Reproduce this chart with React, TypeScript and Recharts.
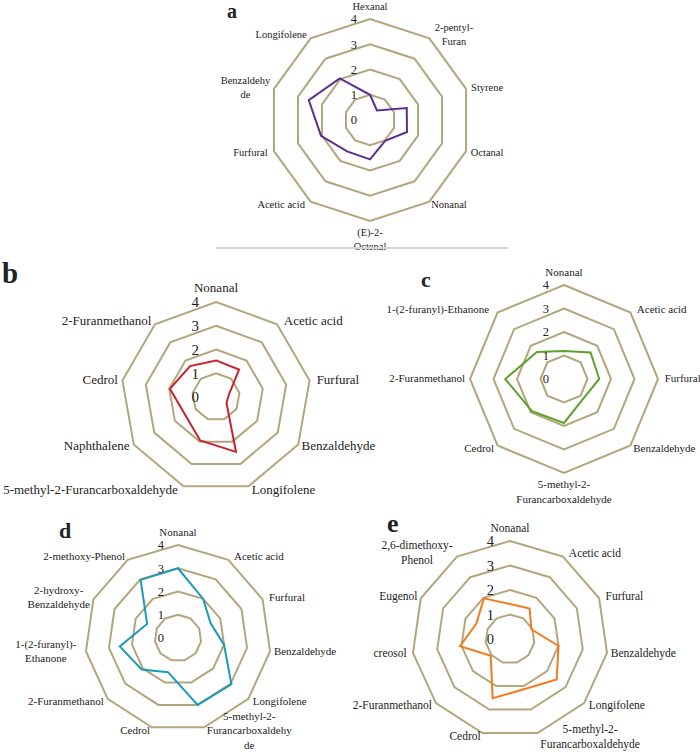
import React from 'react';
import { RadarChart, Radar, PolarGrid, PolarAngleAxis, PolarRadiusAxis } from 'recharts';

const FONT = '"Liberation Serif", "Times New Roman", serif';
const GRID = '#b4a67c';

// panel a
const catsA = ['Hexanal', '2-pentyl-\nFuran', 'Styrene', 'Octanal', 'Nonanal', '(E)-2-\nOctenal', 'Acetic acid', 'Furfural', 'Benzaldehy\nde', 'Longifolene'];
const valsA = [1.0, 0.47, 1.53, 1.54, 1.02, 1.56, 1.54, 2.04, 2.55, 2.04];

// panel b
const catsB = ['Nonanal', 'Acetic acid', 'Furfural', 'Benzaldehyde', 'Longifolene', '5-methyl-2-Furancarboxaldehyde', 'Naphthalene', 'Cedrol', '2-Furanmethanol'];
const valsB = [1.54, 1.51, 0.55, 0.51, 2.46, 1.95, 1.5, 1.97, 1.7];

// panel c
const catsC = ['Nonanal', 'Acetic acid', 'Furfural', 'Benzaldehyde', '5-methyl-2-\nFurancarboxaldehyde', 'Cedrol', '2-Furanmethanol', '1-(2-furanyl)-Ethanone'];
const valsC = [1.19, 1.6, 1.5, 1.17, 1.87, 1.93, 2.5, 1.63];

// panel d
const catsD = ['Nonanal', 'Acetic acid', 'Furfural', 'Benzaldehyde', 'Longifolene', '5-methyl-2-\nFurancarboxaldehy\nde', 'Cedrol', '2-Furanmethanol', '1-(2-furanyl)-\nEthanone', '2-hydroxy-\nBenzaldehyde', '2-methoxy-Phenol'];
const valsD = [3.0, 2.0, 1.54, 2.0, 3.04, 3.0, 1.53, 2.07, 2.53, 1.46, 2.97];

// panel e
const catsE = ['Nonanal', 'Acetic acid', 'Furfural', 'Benzaldehyde', 'Longifolene', '5-methyl-2-\nFurancarboxaldehyde', 'Cedrol', '2-Furanmethanol', 'creosol', 'Eugenol', '2,6-dimethoxy-\nPhenol'];
const valsE = [1.43, 1.48, 0.96, 2.0, 2.52, 2.13, 2.52, 1.04, 2.06, 1.51, 1.97];

const radiusTicks = [0, 1, 2, 3, 4];

function RadarPanel({ left, top, width, height, cx, cy, r, categories, values, color, labelSize, numSize, numDx }: any) {
  const data = categories.map((name: string, i: number) => ({ name, value: values[i] }));
  const n = categories.length;

  // category labels, placed just outside the outer ring like Excel does
  const renderAngleTick = (props: any) => {
    const idx = props.index ?? 0;
    const deg = 90 - (idx * 360) / n;
    const rad = (-deg * Math.PI) / 180;
    const cos = Math.cos(rad);
    const sin = Math.sin(rad);
    const lines = String(props.payload.value).split('\n');
    const lh = labelSize * 1.3;
    const h = lines.length * lh;
    const w = Math.max(...lines.map((l) => l.length * labelSize * 0.47));
    const vertical = Math.abs(cos) < 0.08;
    const gap = vertical ? 5 : 4;
    const x = cx + (r + gap) * cos;
    const y = cy + (r + gap) * sin;
    let bx = x;
    if (!vertical) bx = cos > 0 ? x + w / 2 : x - w / 2;
    let topY = y - h / 2;
    if (vertical) topY = sin < 0 ? y - h : y;
    return (
      <text fontSize={labelSize} fontFamily={FONT} fill="#222" textAnchor="middle">
        {lines.map((l, i) => (
          <tspan key={i} x={bx} y={topY + lh * i + labelSize * 0.95}>{l}</tspan>
        ))}
      </text>
    );
  };

  const renderRadiusTick = (props: any) => {
    const { x, y, payload } = props;
    return (
      <text x={x + numDx} y={y + numSize * 0.35} textAnchor="end" fontSize={numSize} fontFamily={FONT} fill="#222">
        {payload.value}
      </text>
    );
  };

  return (
    <div style={{ position: 'absolute', left, top }}>
      <RadarChart width={width} height={height} data={data} cx={cx} cy={cy} outerRadius={r} margin={{ top: 0, right: 0, bottom: 0, left: 0 }}>
        <PolarGrid gridType="polygon" radialLines={false} stroke={GRID} strokeWidth={2} />
        <PolarAngleAxis dataKey="name" tick={renderAngleTick} tickLine={false} axisLine={false} />
        <PolarRadiusAxis angle={90} domain={[0, 4]} ticks={radiusTicks as any} tickCount={5} axisLine={false} tickLine={false} tick={renderRadiusTick} />
        <Radar dataKey="value" stroke={color} strokeWidth={2} fill="none" fillOpacity={0} dot={false} isAnimationActive={false} />
      </RadarChart>
    </div>
  );
}

export default function App() {
  return (
    <div style={{ position: 'absolute', left: 0, top: 0, width: 700, height: 752, background: '#fff' }}>
      <RadarPanel left={150} top={0} width={400} height={252} cx={220} cy={120} r={101}
        categories={catsA} values={valsA} color="#5b2f8c" labelSize={10.5} numSize={12.5} numDx={-13} />
      <RadarPanel left={0} top={255} width={385} height={250} cx={216} cy={142} r={95}
        categories={catsB} values={valsB} color="#c8232c" labelSize={13} numSize={15} numDx={-17} />
      <RadarPanel left={380} top={255} width={320} height={250} cx={184} cy={124} r={94}
        categories={catsC} values={valsC} color="#5ea12b" labelSize={11} numSize={12.5} numDx={-15} />
      <RadarPanel left={0} top={505} width={350} height={247} cx={178} cy={133} r={93}
        categories={catsD} values={valsD} color="#1b9bb7" labelSize={11} numSize={12.5} numDx={-14} />
      <RadarPanel left={345} top={505} width={355} height={247} cx={165} cy={134} r={98}
        categories={catsE} values={valsE} color="#f47a1f" labelSize={11.5} numSize={14.5} numDx={-16} />
      <svg width={700} height={752} style={{ position: 'absolute', left: 0, top: 0, pointerEvents: 'none' }}>
        <line x1={216} y1={248} x2={508} y2={248} stroke="#d4d4d4" strokeWidth={2} />
        <g fontFamily={FONT} fontWeight="bold" fill="#222">
          <text x={227} y={18} fontSize={20}>a</text>
          <text x={2} y={283} fontSize={29}>b</text>
          <text x={421} y={287} fontSize={22}>c</text>
          <text x={59} y={538} fontSize={22}>d</text>
          <text x={387} y={532} fontSize={26}>e</text>
        </g>
      </svg>
    </div>
  );
}
